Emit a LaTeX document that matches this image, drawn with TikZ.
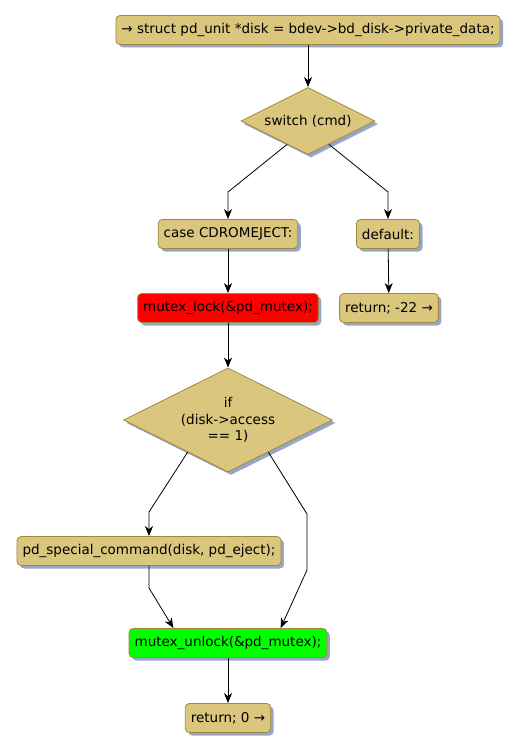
\documentclass[tikz,border=0pt]{standalone}
\usepackage{fontspec}
\setmainfont{DejaVu Sans}
\usetikzlibrary{positioning,arrows.meta,shapes.geometric,calc,shadows}
\definecolor{sand}{HTML}{DBC67D}
\definecolor{sandline}{HTML}{A0883E}
\definecolor{shade}{HTML}{96A6C8}

\begin{document}
\begin{tikzpicture}[x=1pt, y=-1pt,
    actBox/.style={rectangle, rounded corners=4pt, draw=sandline, fill=sand, line width=0.8pt, font=\fontsize{13.5}{16}\selectfont, minimum height=29pt, inner xsep=5.5pt, drop shadow={shadow xshift=3pt, shadow yshift=-3pt, fill=shade, opacity=1}},
    choice/.style={diamond, aspect=2, draw=sandline, fill=sand, line width=0.8pt, inner sep=0pt, align=center, font=\fontsize{13.5}{16.5}\selectfont, drop shadow={shadow xshift=3pt, shadow yshift=-3pt, fill=shade, opacity=1}},
    flow/.style={-{Stealth[length=10pt, width=8pt, inset=3pt]}, line width=0.8pt, draw=black}
]
    \useasboundingbox (0,0) rectangle (521,752);

    % Kopf
    \node[actBox] (start) at (308, 30) {→ struct pd\_unit *disk = bdev->bd\_disk->private\_data;};
    \node[choice, minimum width=134pt, minimum height=67pt] (switchCmd) at (308, 121) {switch (cmd)};

    % Zweige von switch
    \node[actBox] (caseEject) at (228, 234) {case CDROMEJECT:};
    \node[actBox] (caseDefault) at (388, 234) {default:};
    \node[actBox, fill=red] (lockMutex) at (228, 308) {mutex\_lock(\&pd\_mutex);};
    \node[actBox] (retErr) at (389, 308) {return; -22 →};

    % Abfrage und Ende
    \node[choice, minimum width=209pt, minimum height=104pt] (ifAccess) at (228, 420) {if\\(disk->access\\== 1)};
    \node[actBox] (specialCmd) at (149, 551) {pd\_special\_command(disk, pd\_eject);};
    \node[actBox, fill=green] (unlockMutex) at (228, 643) {mutex\_unlock(\&pd\_mutex);};
    \node[actBox] (retOk) at (228, 718) {return; 0 →};

    \coordinate (switchLeft) at (228, 192);
    \coordinate (switchRight) at (388, 192);
    \coordinate (ifLeft) at (149, 512);
    \coordinate (ifRight) at (307, 514);
    \coordinate (ifRightLow) at (307, 570);
    \coordinate (specialLow) at (149, 588);

    \draw[flow] (start.south) -- (switchCmd.north);
    \draw[flow] ($(switchCmd.south)!0.31!(switchCmd.west)$) -- (switchLeft) -- (caseEject.north);
    \draw[flow] ($(switchCmd.south)!0.31!(switchCmd.east)$) -- (switchRight) -- (caseDefault.north);
    \draw[flow] (caseEject) -- (lockMutex);
    \draw[flow] (caseDefault) -- (retErr);
    \draw[flow] (lockMutex.south) -- (ifAccess.north);
    \draw[flow] ($(ifAccess.south)!0.385!(ifAccess.west)$) -- (ifLeft) -- (specialCmd.north);
    \draw[flow] ($(ifAccess.south)!0.385!(ifAccess.east)$) -- (ifRight) -- (ifRightLow) -- ($(unlockMutex.north west)!0.765!(unlockMutex.north east)$);
    \draw[flow] (specialCmd.south) -- (specialLow) -- ($(unlockMutex.north west)!0.225!(unlockMutex.north east)$);
    \draw[flow] (unlockMutex) -- (retOk);
\end{tikzpicture}
\end{document}
